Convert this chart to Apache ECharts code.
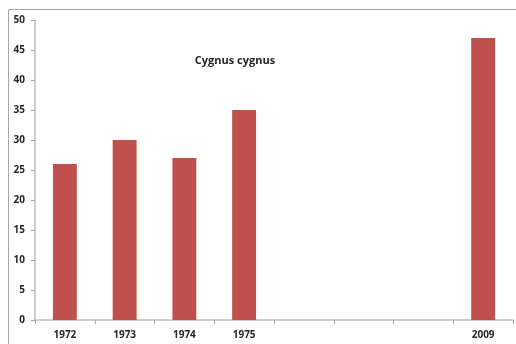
<!DOCTYPE html>
<html>
<head>
<meta charset="utf-8">
<script src="https://cdn.jsdelivr.net/npm/echarts@6/dist/echarts.min.js"></script>
<style>
  html, body { margin: 0; padding: 0; background: #fff; }
  #chart { width: 516px; height: 344px; }
</style>
</head>
<body>
<div id="chart"></div>
<script>
// Survey years (three unlabelled slots stand for the gap before 2009)
var years = ['1972', '1973', '1974', '1975', '', '', '', '2009'];
// Counts per year
var counts = [26, 30, 27, 35, null, null, null, 47];
// Value axis ticks
var yMin = 0, yMax = 50, yStep = 5;

var labelFont = {
  fontFamily: '"Open Sans", "Liberation Sans", sans-serif',
  fontWeight: 'bold',
  fontSize: 10,
  color: '#262626'
};

var chart = echarts.init(document.getElementById('chart'), null, { renderer: 'canvas' });
chart.setOption({
  animation: false,
  backgroundColor: '#ffffff',
  title: {
    text: 'Cygnus cygnus',
    left: 230,
    top: 50,
    textAlign: 'center',
    textStyle: {
      fontFamily: '"Open Sans", "Liberation Sans", sans-serif',
      fontWeight: 'bold',
      fontSize: 11,
      color: '#262626'
    }
  },
  graphic: [{
    type: 'rect',
    silent: true,
    z: -1,
    shape: { x: 8.5, y: 9.5, width: 520, height: 345 },
    style: { fill: 'none', stroke: '#a6a6a6', lineWidth: 1 }
  }],
  grid: { left: 35, right: 3, top: 20, bottom: 24 },
  xAxis: {
    type: 'category',
    data: years,
    boundaryGap: true,
    axisLine: { lineStyle: { color: '#bfbfbf', width: 1.5 } },
    axisTick: { show: true, inside: false, length: 4, alignWithLabel: false, lineStyle: { color: '#a6a6a6' } },
    axisLabel: Object.assign({ margin: 10, interval: 0 }, labelFont),
    splitLine: { show: false }
  },
  yAxis: {
    type: 'value',
    min: yMin,
    max: yMax,
    interval: yStep,
    axisLine: { show: true, lineStyle: { color: '#bfbfbf', width: 1.5 } },
    axisTick: { show: true, inside: false, length: 4, lineStyle: { color: '#a6a6a6' } },
    axisLabel: Object.assign({ margin: 10 }, labelFont),
    splitLine: { show: false }
  },
  series: [{
    type: 'bar',
    data: counts,
    barWidth: '40%',
    itemStyle: { color: '#c0504d' }
  }]
});
</script>
</body>
</html>
